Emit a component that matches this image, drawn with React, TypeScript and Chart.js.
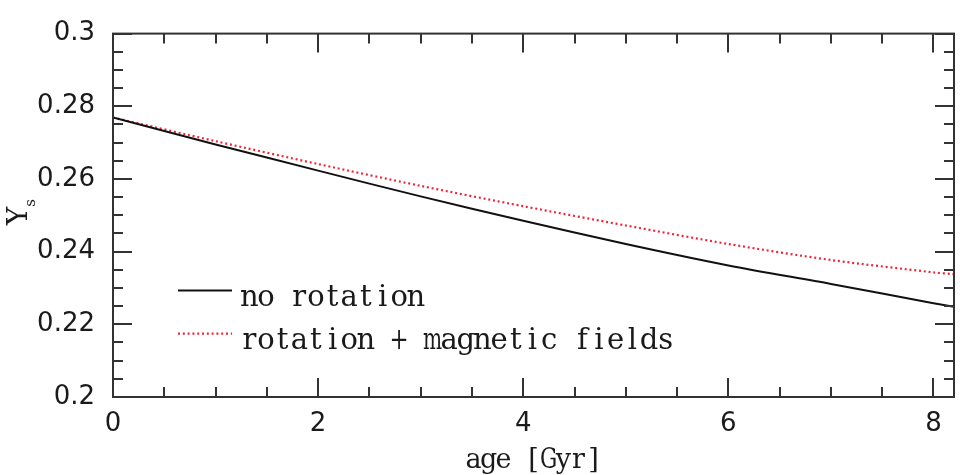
import { useEffect, useRef } from "react";
import { Chart, registerables } from "chart.js";

Chart.register(...registerables);

// Surface helium abundance Y_s versus age
const ageGyr = [0, 1, 2, 3, 4, 5, 6, 7, 8, 8.2];
const ysNoRotation = [0.2769, 0.2695, 0.2623, 0.2552, 0.2485, 0.2421, 0.2362, 0.2311, 0.2258, 0.2248];
const ysRotationMagnetic = [0.2769, 0.2704, 0.2641, 0.2581, 0.2525, 0.2472, 0.2421, 0.2377, 0.2343, 0.2338];
const seriesLabels = ["no rotation", "rotation + magnetic fields"];

const xMajorTicks = [0, 2, 4, 6, 8];
const yMajorTicks = [0.2, 0.22, 0.24, 0.26, 0.28, 0.3];
const xLabel = "age [Gyr]";
const yLabel = "Y";
const yLabelSub = "s";

const X_MIN = 0;
const X_MAX = 8.2;
const Y_MIN = 0.2;
const Y_MAX = 0.3;
const X_MINOR_STEP = 0.5;
const Y_MINOR_STEP = 0.005;

const FRAME_COLOR = "#333333";
const TEXT_COLOR = "#1a1a1a";
const SERIF = "'DejaVu Serif', serif";

// Draws a string with a fixed advance per character (typewriter look)
function drawMono(ctx: CanvasRenderingContext2D, text: string, x: number, y: number, cell: number) {
  ctx.textAlign = "center";
  for (let i = 0; i < text.length; i++) {
    const ch = text[i];
    if (ch === " ") continue;
    ctx.fillText(ch, x + cell * i + cell / 2, y, cell * 1.15);
  }
}

const frameTicksPlugin = {
  id: "frameTicks",
  afterDatasetsDraw(chart: any) {
    const { ctx, chartArea } = chart;
    const { left, right, top, bottom } = chartArea;
    const xs = chart.scales.x;
    const ys = chart.scales.y;
    const majorLen = 19;
    const minorLen = 10;
    ctx.save();
    ctx.strokeStyle = FRAME_COLOR;
    ctx.lineWidth = 2;
    ctx.beginPath();
    // x ticks on bottom and top
    for (let i = 0; X_MIN + i * X_MINOR_STEP <= X_MAX + 1e-9; i++) {
      const v = X_MIN + i * X_MINOR_STEP;
      const major = xMajorTicks.some((t) => Math.abs(t - v) < 1e-6);
      const len = major ? majorLen : minorLen;
      const px = Math.round(xs.getPixelForValue(v));
      ctx.moveTo(px, bottom);
      ctx.lineTo(px, bottom - len);
      ctx.moveTo(px, top);
      ctx.lineTo(px, top + len);
    }
    // y ticks on left and right
    for (let i = 0; i * Y_MINOR_STEP <= Y_MAX - Y_MIN + 1e-9; i++) {
      const v = Y_MIN + i * Y_MINOR_STEP;
      const major = yMajorTicks.some((t) => Math.abs(t - v) < 1e-6);
      const len = major ? majorLen : minorLen;
      const py = Math.round(ys.getPixelForValue(v));
      ctx.moveTo(left, py);
      ctx.lineTo(left + len, py);
      ctx.moveTo(right, py);
      ctx.lineTo(right - len, py);
    }
    ctx.stroke();
    ctx.strokeRect(left, top, right - left, bottom - top);
    ctx.restore();
  },
  afterDraw(chart: any) {
    const { ctx, chartArea } = chart;
    const { left, right, top } = chartArea;
    ctx.save();
    ctx.fillStyle = TEXT_COLOR;
    ctx.textBaseline = "alphabetic";

    // legend
    const rows = [257, 300];
    chart.data.datasets.forEach((ds: any, i: number) => {
      const y = top + rows[i];
      ctx.save();
      ctx.strokeStyle = ds.borderColor;
      ctx.lineWidth = ds.borderWidth;
      ctx.setLineDash(ds.borderDash || []);
      ctx.beginPath();
      ctx.moveTo(left + 65, y);
      ctx.lineTo(left + 119, y);
      ctx.stroke();
      ctx.restore();
      ctx.font = `29px ${SERIF}`;
      ctx.fillStyle = TEXT_COLOR;
      drawMono(ctx, ds.label, left + 128, y + 15, 16.65);
    });

    // x axis title
    ctx.font = `27px ${SERIF}`;
    const cell = 15;
    const cx = (left + right) / 2;
    drawMono(ctx, xLabel, cx - (xLabel.length * cell) / 2, 468, cell);

    // y axis title with subscript
    ctx.save();
    ctx.translate(27, 216);
    ctx.rotate(-Math.PI / 2);
    ctx.textAlign = "center";
    ctx.font = `28px ${SERIF}`;
    ctx.fillText(yLabel, 0, 0);
    ctx.font = `15px ${SERIF}`;
    ctx.fillText(yLabelSub, 13, 8);
    ctx.restore();

    ctx.restore();
  },
};

export default function App() {
  const canvasRef = useRef<HTMLCanvasElement | null>(null);

  useEffect(() => {
    const canvas = canvasRef.current;
    if (!canvas) return;
    const chart = new Chart(canvas, {
      type: "line",
      data: {
        datasets: [
          {
            label: seriesLabels[0],
            data: ageGyr.map((x, i) => ({ x, y: ysNoRotation[i] })),
            borderColor: "#111111",
            borderWidth: 2,
            pointRadius: 0,
            tension: 0.3,
            fill: false,
          },
          {
            label: seriesLabels[1],
            data: ageGyr.map((x, i) => ({ x, y: ysRotationMagnetic[i] })),
            borderColor: "#e8283a",
            borderWidth: 2.2,
            borderDash: [2, 2.8],
            pointRadius: 0,
            tension: 0.3,
            fill: false,
          },
        ],
      },
      options: {
        animation: false,
        responsive: false,
        devicePixelRatio: 1,
        layout: { padding: { left: 0, top: 28, right: 6, bottom: 0 } },
        plugins: {
          legend: { display: false },
          tooltip: { enabled: false },
        },
        scales: {
          x: {
            type: "linear",
            min: X_MIN,
            max: X_MAX,
            grid: { display: false, drawTicks: false },
            border: { display: false },
            afterBuildTicks: (s: any) => {
              s.ticks = xMajorTicks.map((value) => ({ value }));
            },
            afterFit: (s: any) => {
              s.height = 78;
            },
            ticks: {
              autoSkip: false,
              maxRotation: 0,
              padding: 12,
              color: TEXT_COLOR,
              font: { family: "'DejaVu Sans'", size: 26 },
              callback: (v: any) => String(v),
            },
          },
          y: {
            type: "linear",
            min: Y_MIN,
            max: Y_MAX,
            grid: { display: false, drawTicks: false },
            border: { display: false },
            afterBuildTicks: (s: any) => {
              s.ticks = yMajorTicks.map((value) => ({ value }));
            },
            afterFit: (s: any) => {
              s.width = 113;
            },
            ticks: {
              autoSkip: false,
              padding: 18,
              color: TEXT_COLOR,
              font: { family: "'DejaVu Sans'", size: 26 },
              callback: (v: any) => String(Number(Number(v).toFixed(2))),
            },
          },
        },
      },
      plugins: [frameTicksPlugin],
    });
    return () => chart.destroy();
  }, []);

  return (
    <div style={{ position: "fixed", left: 0, top: 0, width: 960, height: 475, background: "#ffffff" }}>
      <canvas ref={canvasRef} width={960} height={475} style={{ width: 960, height: 475, display: "block" }} />
    </div>
  );
}
